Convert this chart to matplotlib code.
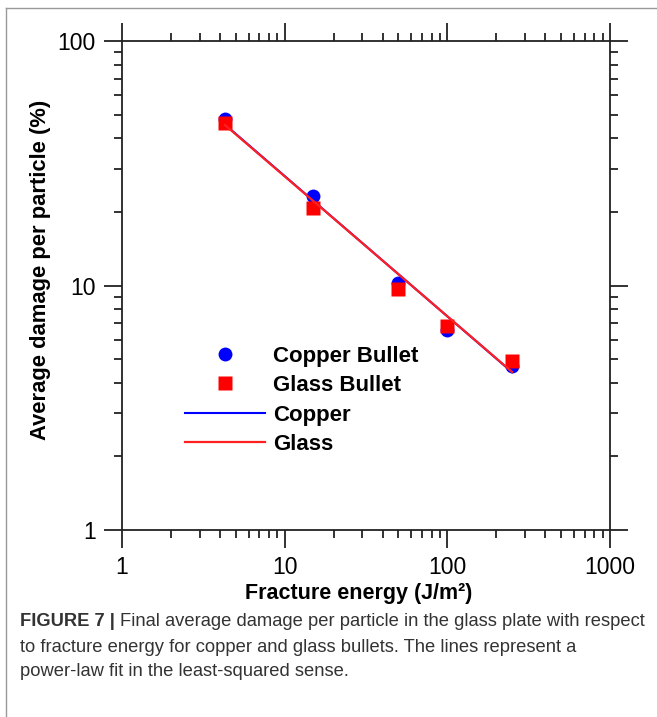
import numpy as np
import matplotlib.pyplot as plt
from matplotlib.lines import Line2D

plt.rcParams['font.family'] = ['Liberation Sans', 'DejaVu Sans']

# data
energy = [4.3, 15.0, 50.0, 100.0, 250.0]
copper = [48.0, 23.3, 10.2, 6.6, 4.7]
glass = [46.0, 20.7, 9.7, 6.8, 4.9]

# power-law fit lines, end points
fitEnergy = [4.3, 250.0]
copperFit = [45.5, 4.42]
glassFit = [45.3, 4.43]

xLim = [1, 1000]
yLim = [1, 100]
xTicks = [1, 10, 100, 1000]
yTicks = [1, 10, 100]

caption = ["to fracture energy for copper and glass bullets. The lines represent a",
           "power-law fit in the least-squared sense."]

W, H = 657, 717
fig = plt.figure(figsize=(W/100, H/100), dpi=100)
ax = fig.add_axes([122/W, 1-530/H, 488/W, 489/H])

ax.plot(energy, copper, 'o', color='#0000ff', ms=10, mec='none', label='Copper Bullet', zorder=3)
ax.plot(energy, glass, 's', color='#ff0000', ms=10, mec='none', label='Glass Bullet', zorder=4)
ax.plot(fitEnergy, copperFit, '-', color='#0000ff', lw=1.5, label='Copper', zorder=2)
ax.plot(fitEnergy, glassFit, '-', color='#ff2020', lw=1.6, label='Glass', zorder=5)

ax.set_xscale('log')
ax.set_yscale('log')
ax.set_xlim(xLim)
ax.set_ylim(yLim)
ax.set_xticks(xTicks)
ax.set_xticklabels([str(t) for t in xTicks])
ax.set_yticks(yTicks)
ax.set_yticklabels([str(t) for t in yTicks])

for s in ax.spines.values():
    s.set_linewidth(1.3)
    s.set_color('#222222')
ax.tick_params(which='both', direction='out', top=True, right=True, color='#222222', width=1.3)
ax.tick_params(which='major', length=13, labelsize=16.5, pad=6)
ax.tick_params(which='minor', length=6)
ax.tick_params(axis='x', which='major', pad=6)

ax.set_xlabel('Fracture energy (J/m²)', fontsize=15.5, fontweight='bold')
ax.set_ylabel('Average damage per particle (%)', fontsize=15.8, fontweight='bold')
ax.xaxis.set_label_coords(0.486, -0.141)
ax.yaxis.set_label_coords(-0.168, 0.532)
ax.xaxis.label.set_va('baseline')
ax.yaxis.label.set_va('center')

leg = ax.legend(loc='upper left', bbox_to_anchor=(0.13, 0.377), frameon=False,
                prop={'size': 16, 'weight': 'bold'}, handlelength=3.6, handletextpad=0.35,
                labelspacing=0.38, borderpad=0, borderaxespad=0)

# panel frame (top and left edges)
fig.add_artist(Line2D([6/W, 1], [1-8/H, 1-8/H], color='#999999', lw=1))
fig.add_artist(Line2D([6/W, 6/W], [0, 1-8/H], color='#999999', lw=1))

# caption
capColor = '#333333'
capSize = 13.2
t1 = fig.text(20/W, 1-622/H, 'FIGURE 7 |', fontsize=capSize, fontweight='bold', color=capColor, va='center')
r = fig.canvas.get_renderer()
bb = t1.get_window_extent(renderer=r)
fig.text((bb.x1 + 5)/W, 1-622/H, 'Final average damage per particle in the glass plate with respect',
         fontsize=capSize, color=capColor, va='center')
fig.text(20/W, 1-647/H, caption[0], fontsize=capSize, color=capColor, va='center')
fig.text(20/W, 1-672/H, caption[1], fontsize=capSize, color=capColor, va='center')

plt.savefig('out.png', dpi=100)
